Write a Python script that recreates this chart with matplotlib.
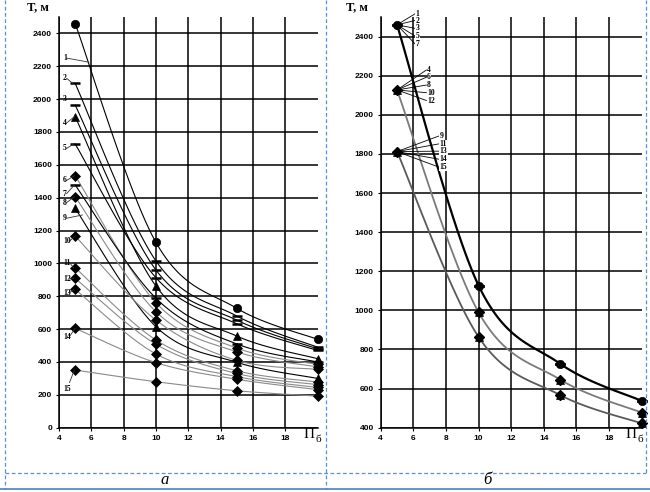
import numpy as np
import matplotlib
matplotlib.use("Agg")
import matplotlib.pyplot as plt
from matplotlib.lines import Line2D

# ---------------- data ----------------
pi_b = [5, 10, 15, 20]
curve_ids = list(range(1, 16))

# panel a: T values (m) at Pi_b = 5, 10, 15, 20
a_values = {
    1: [2460, 1128, 727, 538],
    2: [2096, 1015, 680, 490],
    3: [1964, 960, 655, 480],
    4: [1893, 862, 558, 420],
    5: [1727, 913, 633, 470],
    6: [1534, 761, 485, 385],
    7: [1477, 788, 510, 400],
    8: [1406, 706, 462, 370],
    9: [1335, 615, 398, 300],
    10: [1167, 655, 410, 355],
    11: [974, 534, 347, 278],
    12: [909, 508, 330, 262],
    13: [842, 449, 311, 245],
    14: [605, 396, 295, 232],
    15: [351, 280, 225, 192],
}
a_markers = {1: 'o', 2: '_', 3: '_', 4: '^', 5: '_', 6: 'D', 7: '_', 8: 'D',
             9: '^', 10: 'D', 11: 'D', 12: 'D', 13: 'D', 14: 'D', 15: 'D'}
a_black = [1, 2, 3, 4, 5, 7, 9]

# panel b: three groups of curves
b_group_A = [2460, 1127, 727, 537]
b_group_B = [2127, 990, 646, 477]
b_group_C = [1812, 864, 567, 422]
b_members_A = [1, 2, 3, 5, 7]
b_members_B = [4, 6, 8, 10, 12]
b_members_C = [9, 11, 13, 14, 15]

x_ticks = [4, 6, 8, 10, 12, 14, 16, 18]
a_yticks = list(range(0, 2401, 200))
b_yticks = list(range(400, 2401, 200))


def smooth(xs, ys, n=40):
    """Catmull-Rom smoothed path through the data points (like Excel's smoothed line)."""
    P = np.column_stack([xs, ys]).astype(float)
    P = np.vstack([P[0], P, P[-1]])
    out = []
    for i in range(1, len(P) - 2):
        p0, p1, p2, p3 = P[i - 1], P[i], P[i + 1], P[i + 2]
        m1 = (p2 - p0) / 2.0
        m2 = (p3 - p1) / 2.0
        t = np.linspace(0, 1, n)[:, None]
        h00 = 2 * t**3 - 3 * t**2 + 1
        h10 = t**3 - 2 * t**2 + t
        h01 = -2 * t**3 + 3 * t**2
        h11 = t**3 - t**2
        out.append(h00 * p1 + h10 * m1 + h01 * p2 + h11 * m2)
    seg = np.vstack(out)
    return seg[:, 0], seg[:, 1]


W, H = 650, 492
fig = plt.figure(figsize=(6.5, 4.92), dpi=100)

tick_font = dict(family='Liberation Sans', size=6, weight='bold')
lab_font = dict(family='Liberation Serif', size=5.5, weight='bold')


def style_axes(ax, ylim, yticks):
    ax.set_xlim(4, 20)
    ax.set_ylim(*ylim)
    ax.set_xticks(x_ticks)
    ax.set_yticks(yticks)
    ax.grid(True, color='black', linewidth=1.1)
    ax.set_axisbelow(True)
    for s in ['top', 'right']:
        ax.spines[s].set_visible(False)
    for s in ['left', 'bottom']:
        ax.spines[s].set_linewidth(1.1)
    ax.tick_params(length=2, width=0.8, pad=3)
    for lab in ax.get_xticklabels() + ax.get_yticklabels():
        lab.set_fontfamily(tick_font['family'])
        lab.set_fontsize(tick_font['size'])
        lab.set_fontweight(tick_font['weight'])


def msize(m):
    return {'o': 6, '_': 7, '^': 6, 'D': 5}[m]


# ---------------- panel a ----------------
axa = fig.add_axes([59 / W, 1 - 427.7 / H, 258.5 / W, (427.7 - 17) / H])
style_axes(axa, (0, 2500), a_yticks)
for cid in curve_ids:
    ys = a_values[cid]
    col = 'black' if cid in a_black else '#8a8a8a'
    sx, sy = smooth(pi_b, ys)
    axa.plot(sx, sy, color=col, lw=0.8, zorder=3, clip_on=False)
    m = a_markers[cid]
    axa.plot(pi_b, ys, linestyle='none', marker=m, color='black',
             markersize=msize(m), markeredgewidth=1.8 if m == '_' else 0.5,
             zorder=4, clip_on=False)

# labels with leader lines (label position, leader end)
a_labels = {
    1: ((4.25, 2250), (5.85, 2225)),
    2: ((4.25, 2127), (4.85, 2096)),
    3: ((4.25, 2000), None),
    4: ((4.25, 1855), (4.95, 1893)),
    5: ((4.25, 1700), (4.9, 1727)),
    6: ((4.25, 1505), (4.95, 1534)),
    7: ((4.25, 1425), (4.95, 1477)),
    8: ((4.25, 1370), (4.95, 1406)),
    9: ((4.25, 1275), (5.45, 1295)),
    10: ((4.3, 1135), (5.0, 1167)),
    11: ((4.3, 1005), (4.9, 974)),
    12: ((4.3, 905), (4.9, 909)),
    13: ((4.3, 820), (4.9, 842)),
    14: ((4.3, 555), (5.0, 605)),
    15: ((4.3, 235), (4.95, 351)),
}
for cid, (pos, end) in a_labels.items():
    axa.text(pos[0], pos[1], str(cid), ha='left', va='center', zorder=6, **lab_font)
    if end is not None:
        sx = pos[0] + (0.22 if cid < 10 else 0.35)
        sy = pos[1] if cid != 15 else pos[1] + 40
        axa.plot([sx, end[0]], [sy, end[1]], color='#333333', lw=0.6, zorder=5)

# ---------------- panel b ----------------
axb = fig.add_axes([380.7 / W, 1 - 427.7 / H, 261 / W, (427.7 - 17) / H])
style_axes(axb, (400, 2500), b_yticks)

groups = [(b_group_A, b_members_A, 'black', 1.6),
          (b_group_B, b_members_B, '#7a7a7a', 1.3),
          (b_group_C, b_members_C, '#5a5a5a', 1.3)]
for vals, members, col, lw in groups:
    sx, sy = smooth(pi_b, vals)
    axb.plot(sx, sy, color=col, lw=lw, zorder=3, clip_on=False)
    for k, cid in enumerate(members):
        m = a_markers[cid]
        axb.plot(pi_b, vals, linestyle='none', marker=m, color='black',
                 markersize=msize(m), markeredgewidth=1.8 if m == '_' else 0.5,
                 zorder=4, clip_on=False)

# labels for panel b
b_label_pos = {
    1: (6.15, 2516), 2: (6.15, 2482), 3: (6.15, 2442), 5: (6.15, 2403), 7: (6.15, 2363),
    4: (6.85, 2229), 6: (6.85, 2192), 8: (6.85, 2152), 10: (6.85, 2113), 12: (6.85, 2073),
    9: (7.6, 1891), 11: (7.6, 1851), 13: (7.6, 1814), 14: (7.6, 1773), 15: (7.6, 1733),
}
b_origin = {}
for cid in b_members_A:
    b_origin[cid] = b_group_A[0]
for cid in b_members_B:
    b_origin[cid] = b_group_B[0]
for cid in b_members_C:
    b_origin[cid] = b_group_C[0]
for cid, (lx, ly) in b_label_pos.items():
    axb.plot([5.0, lx - 0.05], [b_origin[cid], ly], color='black', lw=0.6,
             zorder=5, clip_on=False)
    axb.text(lx, ly, str(cid), ha='left', va='center', zorder=7,
             bbox=dict(facecolor='white', edgecolor='none', pad=0.3), **lab_font)

# ---------------- axis titles ----------------
for xpix in (27, 346):
    fig.text(xpix / W, 1 - 7 / H, 'Т, м', ha='left', va='center',
             family='Liberation Serif', weight='bold', fontsize=9)
for xpix in (304, 626):
    fig.text(xpix / W, 1 - 435 / H, 'П', ha='left', va='center',
             family='Liberation Serif', fontsize=11)
    fig.text((xpix + 12) / W, 1 - 440 / H, 'б', ha='left', va='center',
             family='Liberation Serif', fontsize=8)

# ---------------- frame and captions ----------------
blue = '#5B8FD6'
def fline(x0, y0, x1, y1, ls='--', lw=0.9):
    fig.add_artist(Line2D([x0 / W, x1 / W], [1 - y0 / H, 1 - y1 / H], color=blue,
                          lw=lw, linestyle=ls, dashes=(3, 2) if ls == '--' else (None, None)))

fline(5, 0, 5, 489)
fline(326, 0, 326, 489)
fline(646, 0, 646, 473)
fline(5, 473, 646, 473)
fig.add_artist(Line2D([0, 1], [1 - 489 / H, 1 - 489 / H], color='#4A7FC8', lw=1.2))

fig.text(165 / W, 1 - 480 / H, 'а', ha='center', va='center', style='italic',
         family='Liberation Serif', fontsize=12)
fig.text(487 / W, 1 - 480 / H, 'б', ha='center', va='center', style='italic',
         family='Liberation Serif', fontsize=12)

fig.savefig('out.png', dpi=100, facecolor='white')
